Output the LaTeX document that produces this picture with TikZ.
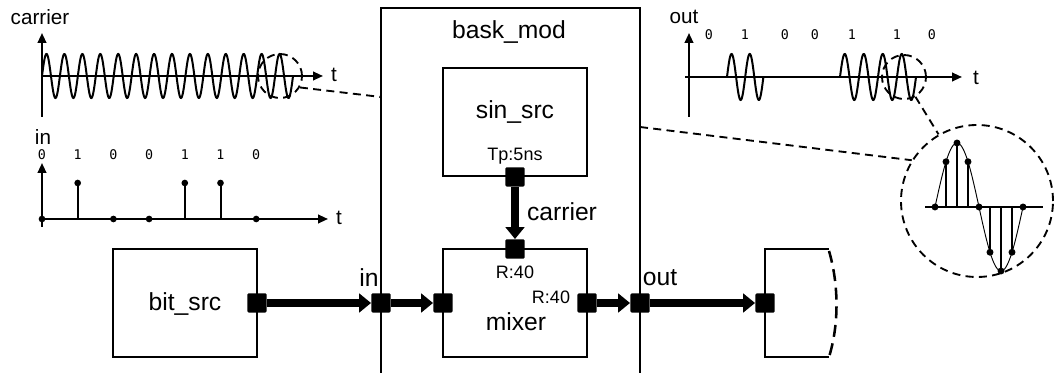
\documentclass[tikz,border=0pt]{standalone}
\usepackage{fontspec}
\setmainfont{Liberation Sans}
\newfontfamily\monof{DejaVu Sans Mono}
\usetikzlibrary{arrows.meta}
\begin{document}
\begin{tikzpicture}[x=0.75pt,y=-0.75pt,
  blk/.style={draw,line width=1.9pt,minimum width=108pt,minimum height=81pt,inner sep=0pt},
  port/.style={fill=black,minimum size=14.5pt,inner sep=0pt,rounded corners=1pt},
  wire/.style={line width=5.4pt,-{Triangle[length=9pt,width=14pt]}},
  lbl/.style={font=\fontsize{18.5}{20}\selectfont,inner sep=0pt},
  small/.style={font=\fontsize{13.5}{15}\selectfont,inner sep=0pt},
  plbl/.style={font=\fontsize{15.5}{17}\selectfont,inner sep=0pt},
  bit/.style={font=\monof\fontsize{10}{11}\selectfont,inner sep=0pt},
  axis/.style={line width=1.5pt,-{Triangle[length=7.5pt,width=6.5pt]}},
  wave/.style={line width=1.5pt},
  stem/.style={line width=1.5pt},
  dsh/.style={line width=1.4pt,dash pattern=on 6pt off 4pt},
  zc/.style={circle,draw,dsh,inner sep=0pt}
]
\useasboundingbox (0,0) rectangle (1054,373);

% ---- bask_mod outer frame
\draw[line width=0.9pt] (381,373) -- (381,8) -- (640,8) -- (640,373);
\node[lbl] (tmod) at (509,32) {bask\_mod};

% ---- blocks
\node[blk] (bitsrc) at (185,303) {};
\node[lbl] (tbit) at (185,304) {bit\_src};
\node[blk] (sinsrc) at (515,122) {};
\node[lbl] (tsin) at (515,112) {sin\_src};
\node[small] (ttp) at (515,156) {Tp:5ns};
\node[blk] (mixer) at (515,303) {};
\node[lbl] (tmix) at (516,322) {mixer};
\node[small] (tr1) at (515,272) {R:40};
\node[small] (tr2) at (551,297) {R:40};

% ---- partial right block
\draw[line width=1.9pt] (829,249) -- (765,249) -- (765,357) -- (829,357);
\draw[line width=1.9pt,dash pattern=on 9pt off 5pt] (829,251) .. controls (839,285) and (839,325) .. (829,357);

% ---- ports
\node[port] (bitout) at (257,303) {};
\node[port] (inport) at (381,303) {};
\node[port] (mixin) at (443,303) {};
\node[port] (mixout) at (587,303) {};
\node[port] (outport) at (640,303) {};
\node[port] (rin) at (765,303) {};
\node[port] (sinport) at (515,177) {};
\node[port] (mixtop) at (515,249) {};

% ---- wires
\draw[wire] (bitout.east) -- (inport.west);
\draw[wire] (inport.east) -- (mixin.west);
\draw[wire] (sinport.south) -- (mixtop.north);
\draw[wire] (mixout.east) -- (outport.west);
\draw[wire] (outport.east) -- (rin.west);
\node[lbl] (tin) at (369,278) {in};
\node[lbl] (tout) at (660,278) {out};
\node[lbl] (tcar) at (562,212) {carrier};

% ---- carrier plot
\node[plbl] (pcar) at (40,17) {carrier};
\draw[axis] (42,117) -- (42,33);
\draw[axis] (42,76) -- (323,76);
\node[plbl] (pct) at (334,75) {t};
\draw[wave] plot[domain=0:14,samples=600] ({42+17.93*\x},{76-22*sin(360*\x)});
\node[zc,minimum size=33pt] (cz) at (280,76) {};

% ---- in plot
\node[plbl] (pin) at (43,137) {in};
\foreach \b [count=\i from 0] in {0,1,0,0,1,1,0}{
  \node[bit] at ({42+35.7*\i},155) {\b};
}
\draw[axis] (42,227) -- (42,163);
\draw[axis] (42,219) -- (328,219);
\node[plbl] (pit) at (339,218) {t};
\foreach \b [count=\i from 0] in {0,1,0,0,1,1,0}{
  \pgfmathsetmacro{\xx}{42+35.7*\i}
  \ifnum\b=1
    \draw[stem] (\xx,219) -- (\xx,183);
    \fill (\xx,183) circle (2.5pt);
  \else
    \fill (\xx,219) circle (2.5pt);
  \fi
}

% ---- out plot
\node[plbl] (pout) at (684,17) {out};
\draw[axis] (689,117) -- (689,33);
\draw[axis] (685,77) -- (962,77);
\node[plbl] (pot) at (976,78) {t};
\foreach \b/\xx in {0/709,1/745,0/785,0/815,1/852,1/897,0/932}{
  \node[bit] at (\xx,35) {\b};
}
\draw[wave] plot[domain=0:2,samples=150] ({727+18.2*\x},{77-23*sin(360*\x)});
\draw[wave] plot[domain=0:4,samples=300] ({840+19*\x},{77-23*sin(360*\x)});
\node[zc,minimum size=33pt] (oz) at (904,77) {};

% ---- magnified view
\node[zc,minimum size=114pt] (bz) at (977,201) {};
\draw[line width=1.5pt] (925,207) -- (1043,207);
\draw[line width=0.7pt] plot[domain=0:1,samples=120] ({935+88*\x},{207-64*sin(360*\x)});
\foreach \k in {0,...,8}{
  \pgfmathsetmacro{\xx}{935+11*\k}
  \pgfmathsetmacro{\yy}{207-64*sin(45*\k)}
  \draw[stem] (\xx,207) -- (\xx,\yy);
  \fill (\xx,\yy) circle (2.6pt);
}

% ---- zoom leaders
\coordinate (bl) at (381,97);
\coordinate (br) at (640,127);
\draw[dsh] (cz.-30) -- (bl);
\draw[dsh] (br) -- (bz.148);
\draw[dsh] (oz.-60) -- (bz.120);
\end{tikzpicture}
\end{document}
